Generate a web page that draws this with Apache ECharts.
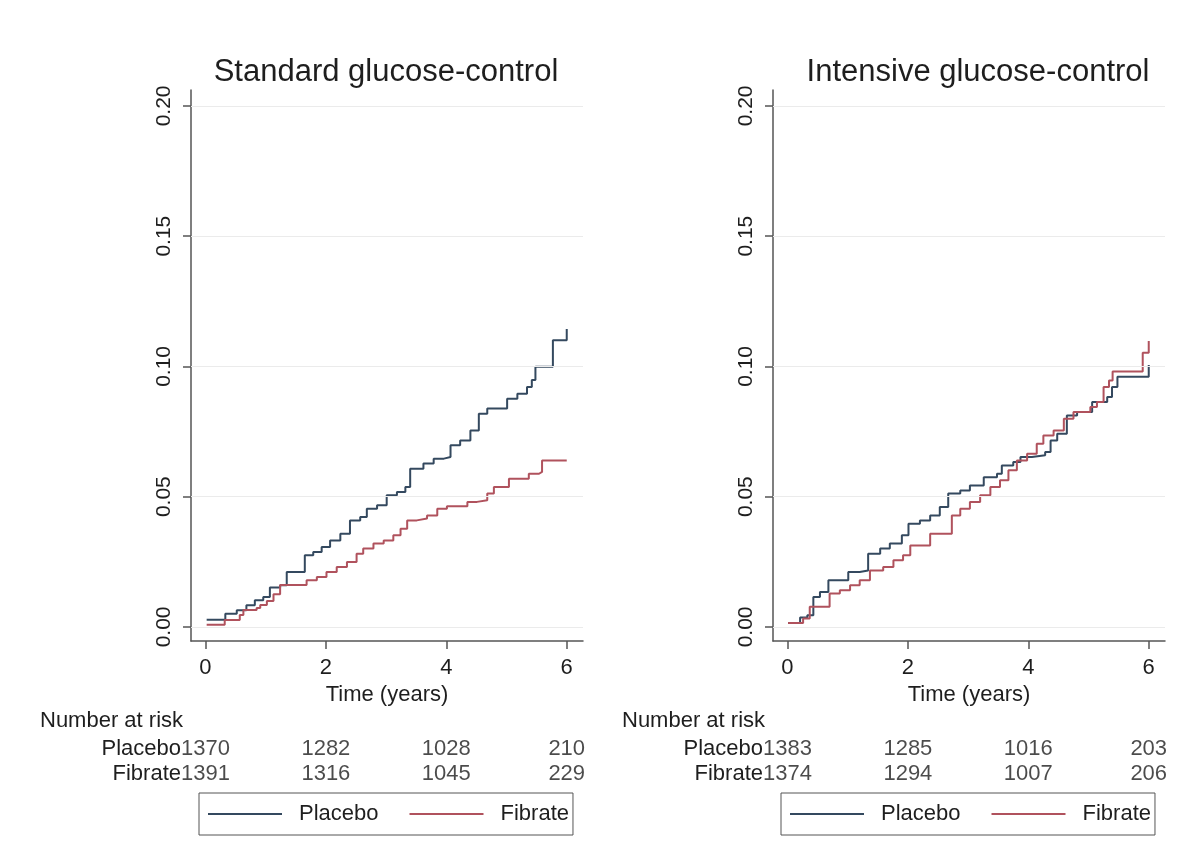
<!DOCTYPE html>
<html>
<head>
<meta charset="utf-8">
<script src="https://cdn.jsdelivr.net/npm/echarts@6.0.0/dist/echarts.min.js"></script>
<style>
html,body{margin:0;padding:0;background:#fff;}
#chart{width:1203px;height:859px;}
</style>
</head>
<body>
<div id="chart"></div>
<script>
// ---- Data ----
const xTicks = [0, 2, 4, 6];
const yTicks = [0, 0.05, 0.10, 0.15, 0.20];
const riskTimes = [0, 2, 4, 6];
const groups = ['Placebo', 'Fibrate'];

// Standard glucose-control: [time (years), cumulative incidence]
const stdPlacebo = [[0.02,0.0028],[0.33,0.0051],[0.52,0.0064],[0.68,0.0083],[0.82,0.0102],[0.96,0.0115],[1.07,0.0151],[1.24,0.0160],[1.35,0.0211],[1.65,0.0275],[1.79,0.0288],[1.93,0.0307],[2.07,0.0332],[2.24,0.0358],[2.40,0.0409],[2.57,0.0422],[2.68,0.0454],[2.85,0.0467],[3.01,0.0505],[3.18,0.0518],[3.32,0.0537],[3.40,0.0607],[3.62,0.0627],[3.79,0.0646],[3.96,0.0652],[4.07,0.0697],[4.23,0.0716],[4.40,0.0754],[4.54,0.0818],[4.68,0.0838],[5.01,0.0876],[5.18,0.0895],[5.34,0.0921],[5.42,0.0948],[5.48,0.0999],[5.77,0.1100],[6.00,0.1144]];
const stdFibrate = [[0.02,0.0008],[0.32,0.0027],[0.57,0.0046],[0.63,0.0065],[0.85,0.0073],[0.91,0.0084],[1.02,0.0100],[1.13,0.0125],[1.24,0.0161],[1.68,0.0179],[1.85,0.0192],[2.01,0.0211],[2.18,0.0230],[2.35,0.0249],[2.51,0.0281],[2.62,0.0301],[2.79,0.0320],[2.96,0.0332],[3.12,0.0352],[3.24,0.0377],[3.35,0.0409],[3.51,0.0416],[3.68,0.0428],[3.85,0.0454],[4.01,0.0463],[4.35,0.0480],[4.51,0.0486],[4.68,0.0512],[4.79,0.0537],[5.04,0.0569],[5.37,0.0588],[5.54,0.0595],[5.59,0.0639],[6.00,0.0639]];

// Intensive glucose-control
const intPlacebo = [[0.01,0.0015],[0.21,0.0036],[0.33,0.0045],[0.43,0.0115],[0.54,0.0134],[0.68,0.0179],[1.01,0.0211],[1.20,0.0217],[1.34,0.0281],[1.54,0.0301],[1.70,0.0320],[1.90,0.0352],[2.01,0.0396],[2.20,0.0409],[2.37,0.0428],[2.53,0.0460],[2.67,0.0512],[2.87,0.0524],[3.03,0.0543],[3.26,0.0575],[3.48,0.0588],[3.56,0.0620],[3.75,0.0633],[3.87,0.0652],[4.06,0.0659],[4.28,0.0671],[4.37,0.0716],[4.48,0.0742],[4.64,0.0812],[4.81,0.0825],[5.06,0.0863],[5.31,0.0883],[5.39,0.0921],[5.48,0.0960],[6.00,0.1005]];
const intFibrate = [[0.01,0.0015],[0.26,0.0032],[0.37,0.0077],[0.70,0.0128],[0.87,0.0141],[1.04,0.0160],[1.20,0.0179],[1.37,0.0217],[1.59,0.0230],[1.76,0.0256],[1.92,0.0275],[2.04,0.0313],[2.37,0.0358],[2.73,0.0428],[2.87,0.0454],[3.03,0.0480],[3.20,0.0505],[3.37,0.0537],[3.53,0.0563],[3.67,0.0601],[3.81,0.0639],[3.98,0.0665],[4.14,0.0703],[4.25,0.0735],[4.42,0.0754],[4.59,0.0799],[4.75,0.0825],[5.03,0.0844],[5.14,0.0863],[5.25,0.0921],[5.34,0.0946],[5.40,0.0980],[5.90,0.1052],[6.00,0.1098]];

// Number at risk
const stdRiskPlacebo = [1370, 1282, 1028, 210];
const stdRiskFibrate = [1391, 1316, 1045, 229];
const intRiskPlacebo = [1383, 1285, 1016, 203];
const intRiskFibrate = [1374, 1294, 1007, 206];

const titles = ['Standard glucose-control', 'Intensive glucose-control'];

// ---- Styling / layout ----
const FONT = '"Liberation Sans", Arial, Helvetica, sans-serif';
const TXT = '#1e1e1e';
const AX = '#555555';
const COLORS = { Placebo: '#34495f', Fibrate: '#b0525d' };
const XMIN = -0.24, XMAX = 6.27, YMIN = -0.0054, YMAX = 0.2061;

const panels = [
  { title: titles[0], titleX: 386, left: 191, placebo: stdPlacebo, fibrate: stdFibrate, riskP: stdRiskPlacebo, riskF: stdRiskFibrate, narX: 40, legendX: 199 },
  { title: titles[1], titleX: 978, left: 773, placebo: intPlacebo, fibrate: intFibrate, riskP: intRiskPlacebo, riskF: intRiskFibrate, narX: 622, legendX: 781 }
];

const option = {
  animation: false,
  backgroundColor: '#ffffff',
  textStyle: { fontFamily: FONT },
  title: [], grid: [], xAxis: [], yAxis: [], series: [], legend: []
};

panels.forEach((p, i) => {
  const gPlot = i * 2, gRisk = i * 2 + 1;
  option.title.push({
    text: p.title, left: p.titleX, top: 57, textAlign: 'center', padding: 0,
    textStyle: { fontSize: 31, fontWeight: 'normal', color: TXT, fontFamily: FONT }
  });
  option.title.push({
    text: 'Number at risk', left: p.narX, top: 710, padding: 0,
    textStyle: { fontSize: 22, fontWeight: 'normal', color: TXT, fontFamily: FONT }
  });
  option.grid.push({ left: p.left, top: 90, width: 392, height: 551, containLabel: false });
  option.grid.push({ left: p.left, top: 736, width: 392, height: 50, containLabel: false });

  option.xAxis.push({
    gridIndex: gPlot, type: 'value', min: XMIN, max: XMAX,
    name: 'Time (years)', nameLocation: 'middle', nameGap: 39,
    nameTextStyle: { fontSize: 22, color: TXT, fontFamily: FONT },
    axisLine: { show: true, onZero: false, lineStyle: { color: AX, width: 1.5 } },
    axisTick: { show: true, inside: false, length: 8, customValues: xTicks, lineStyle: { color: AX, width: 1.5 } },
    axisLabel: { show: true, customValues: xTicks, fontSize: 22, color: TXT, margin: 16, fontFamily: FONT },
    splitLine: { show: false }
  });
  option.yAxis.push({
    gridIndex: gPlot, type: 'value', min: YMIN, max: YMAX,
    axisLine: { show: true, onZero: false, lineStyle: { color: AX, width: 1.5 } },
    axisTick: { show: true, inside: false, length: 8, customValues: yTicks, lineStyle: { color: AX, width: 1.5 } },
    axisLabel: { show: true, customValues: yTicks, rotate: 90, fontSize: 21, color: TXT, margin: 16, fontFamily: FONT,
      formatter: v => Number(v).toFixed(2) },
    splitLine: { show: false }
  });
  option.xAxis.push({ gridIndex: gRisk, type: 'value', min: XMIN, max: XMAX, show: false });
  option.yAxis.push({
    gridIndex: gRisk, type: 'category', data: groups, inverse: true,
    axisLine: { show: false }, axisTick: { show: false }, splitLine: { show: false },
    axisLabel: { interval: 0, hideOverlap: false, fontSize: 22, color: TXT, margin: 10, fontFamily: FONT }
  });

  // faint horizontal gridlines
  option.series.push({
    name: '_grid' + i, type: 'line', xAxisIndex: gPlot, yAxisIndex: gPlot, data: [], z: 1, silent: true,
    markLine: {
      silent: true, symbol: ['none', 'none'], label: { show: false }, animation: false,
      lineStyle: { color: '#ebebeb', width: 1, type: 'solid' },
      emphasis: { disabled: true },
      data: yTicks.map(v => ({ yAxis: v }))
    }
  });
  [['Placebo', p.placebo], ['Fibrate', p.fibrate]].forEach(([name, d]) => {
    option.series.push({
      name, type: 'line', step: 'end', xAxisIndex: gPlot, yAxisIndex: gPlot,
      data: d, symbol: 'none', showSymbol: false, z: 3,
      lineStyle: { color: COLORS[name], width: 2 }, itemStyle: { color: COLORS[name] },
      emphasis: { disabled: true }
    });
  });
  [['Placebo', p.riskP], ['Fibrate', p.riskF]].forEach(([name, r]) => {
    option.series.push({
      name: 'risk_' + name + i, type: 'scatter', xAxisIndex: gRisk, yAxisIndex: gRisk, silent: true,
      symbol: 'circle', symbolSize: 1, itemStyle: { color: 'rgba(0,0,0,0)' },
      data: riskTimes.map((t, k) => [t, name, r[k]]),
      label: { show: true, position: 'inside', formatter: q => String(q.value[2]), fontSize: 22, color: TXT, fontFamily: FONT }
    });
  });
  option.legend.push({
    left: p.legendX, top: 793, orient: 'horizontal', data: ['Placebo', 'Fibrate'],
    selectedMode: false, borderColor: AX, borderWidth: 1, padding: [10, 4, 10, 9],
    icon: 'rect', itemWidth: 74, itemHeight: 2, itemGap: 31,
    textStyle: { fontSize: 22, color: TXT, fontFamily: FONT, padding: [0, 0, 0, 12] }
  });
});

const chart = echarts.init(document.getElementById('chart'), null, { renderer: 'canvas' });
chart.setOption(option);
</script>
</body>
</html>
